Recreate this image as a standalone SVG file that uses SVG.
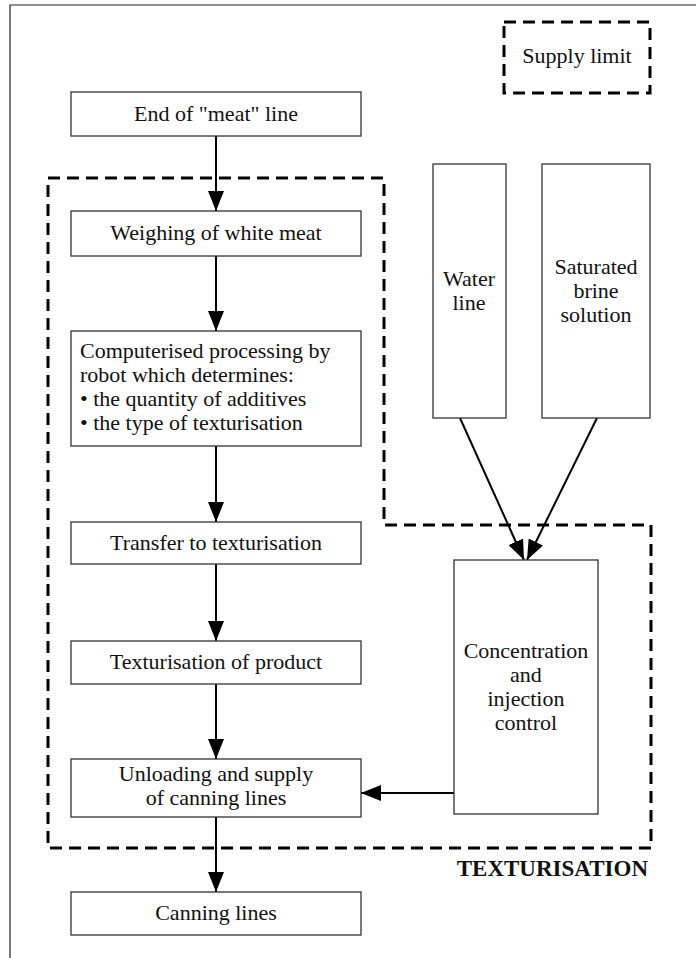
<svg xmlns="http://www.w3.org/2000/svg" width="696" height="958" viewBox="0 0 696 958">
<style>
text{font-family:"Liberation Serif","Times New Roman",serif;font-size:22px;fill:#111}
.c{text-anchor:middle}
.box{fill:#fff;stroke:#333;stroke-width:1.3}
.dash{fill:none;stroke:#000;stroke-width:3;stroke-dasharray:12 7}
.arr{fill:none;stroke:#000;stroke-width:2;marker-end:url(#ah)}
.b{font-weight:bold;font-size:23px}
</style>
<defs>
<marker id="ah" markerUnits="userSpaceOnUse" markerWidth="20" markerHeight="16" refX="20" refY="8" orient="auto" viewBox="0 0 20 16">
<path d="M0,0 L20,8 L0,16 z" fill="#000"/>
</marker>
</defs>
<rect width="696" height="958" fill="#fff"/>
<g id="frame"><path d="M10,958 V5 H696" fill="none" stroke="#222" stroke-width="1.2"/></g>
<g id="supply-limit"><rect class="dash" x="504" y="22" width="146" height="71"/><text class="c" x="577" y="63">Supply limit</text></g>
<g id="texturisation-zone"><path class="dash" d="M48,178 H384 V525 H651 V848 H48 Z"/><text class="b" x="648" y="876" text-anchor="end">TEXTURISATION</text></g>
<g id="connectors">
<line class="arr" x1="216" y1="136" x2="216" y2="211"/>
<line class="arr" x1="216" y1="256" x2="216" y2="331"/>
<line class="arr" x1="216" y1="446" x2="216" y2="522"/>
<line class="arr" x1="216" y1="564" x2="216" y2="641"/>
<line class="arr" x1="216" y1="684" x2="216" y2="759"/>
<line class="arr" x1="216" y1="817" x2="216" y2="892"/>
<line class="arr" x1="460" y1="418" x2="524" y2="560"/>
<line class="arr" x1="597" y1="418" x2="527" y2="560"/>
<line class="arr" x1="454" y1="793" x2="361" y2="793"/>
</g>
<g id="end-meat"><rect class="box" x="71" y="92" width="290" height="44"/><text class="c" x="216" y="121">End of "meat" line</text></g>
<g id="weighing"><rect class="box" x="71" y="211" width="290" height="45"/><text class="c" x="216" y="240">Weighing of white meat</text></g>
<g id="computerised"><rect class="box" x="71" y="331" width="290" height="115"/>
<text x="80" y="358">Computerised processing by</text>
<text x="80" y="382">robot which determines:</text>
<text x="80" y="406">• the quantity of additives</text>
<text x="80" y="430">• the type of texturisation</text></g>
<g id="transfer"><rect class="box" x="71" y="522" width="290" height="42"/><text class="c" x="216" y="550">Transfer to texturisation</text></g>
<g id="texturisation-product"><rect class="box" x="71" y="641" width="290" height="43"/><text class="c" x="216" y="669">Texturisation of product</text></g>
<g id="unloading"><rect class="box" x="71" y="759" width="290" height="58"/><text class="c" x="216" y="781">Unloading and supply</text><text class="c" x="216" y="805">of canning lines</text></g>
<g id="canning"><rect class="box" x="71" y="892" width="290" height="43"/><text class="c" x="216" y="920">Canning lines</text></g>
<g id="water"><rect class="box" x="433" y="164" width="73" height="254"/><text class="c" x="469" y="286">Water</text><text class="c" x="469" y="310">line</text></g>
<g id="brine"><rect class="box" x="542" y="164" width="108" height="254"/><text class="c" x="596" y="274">Saturated</text><text class="c" x="596" y="298">brine</text><text class="c" x="596" y="322">solution</text></g>
<g id="concentration"><rect class="box" x="454" y="560" width="144" height="254"/><text class="c" x="526" y="658">Concentration</text><text class="c" x="526" y="682">and</text><text class="c" x="526" y="706">injection</text><text class="c" x="526" y="730">control</text></g>
</svg>
